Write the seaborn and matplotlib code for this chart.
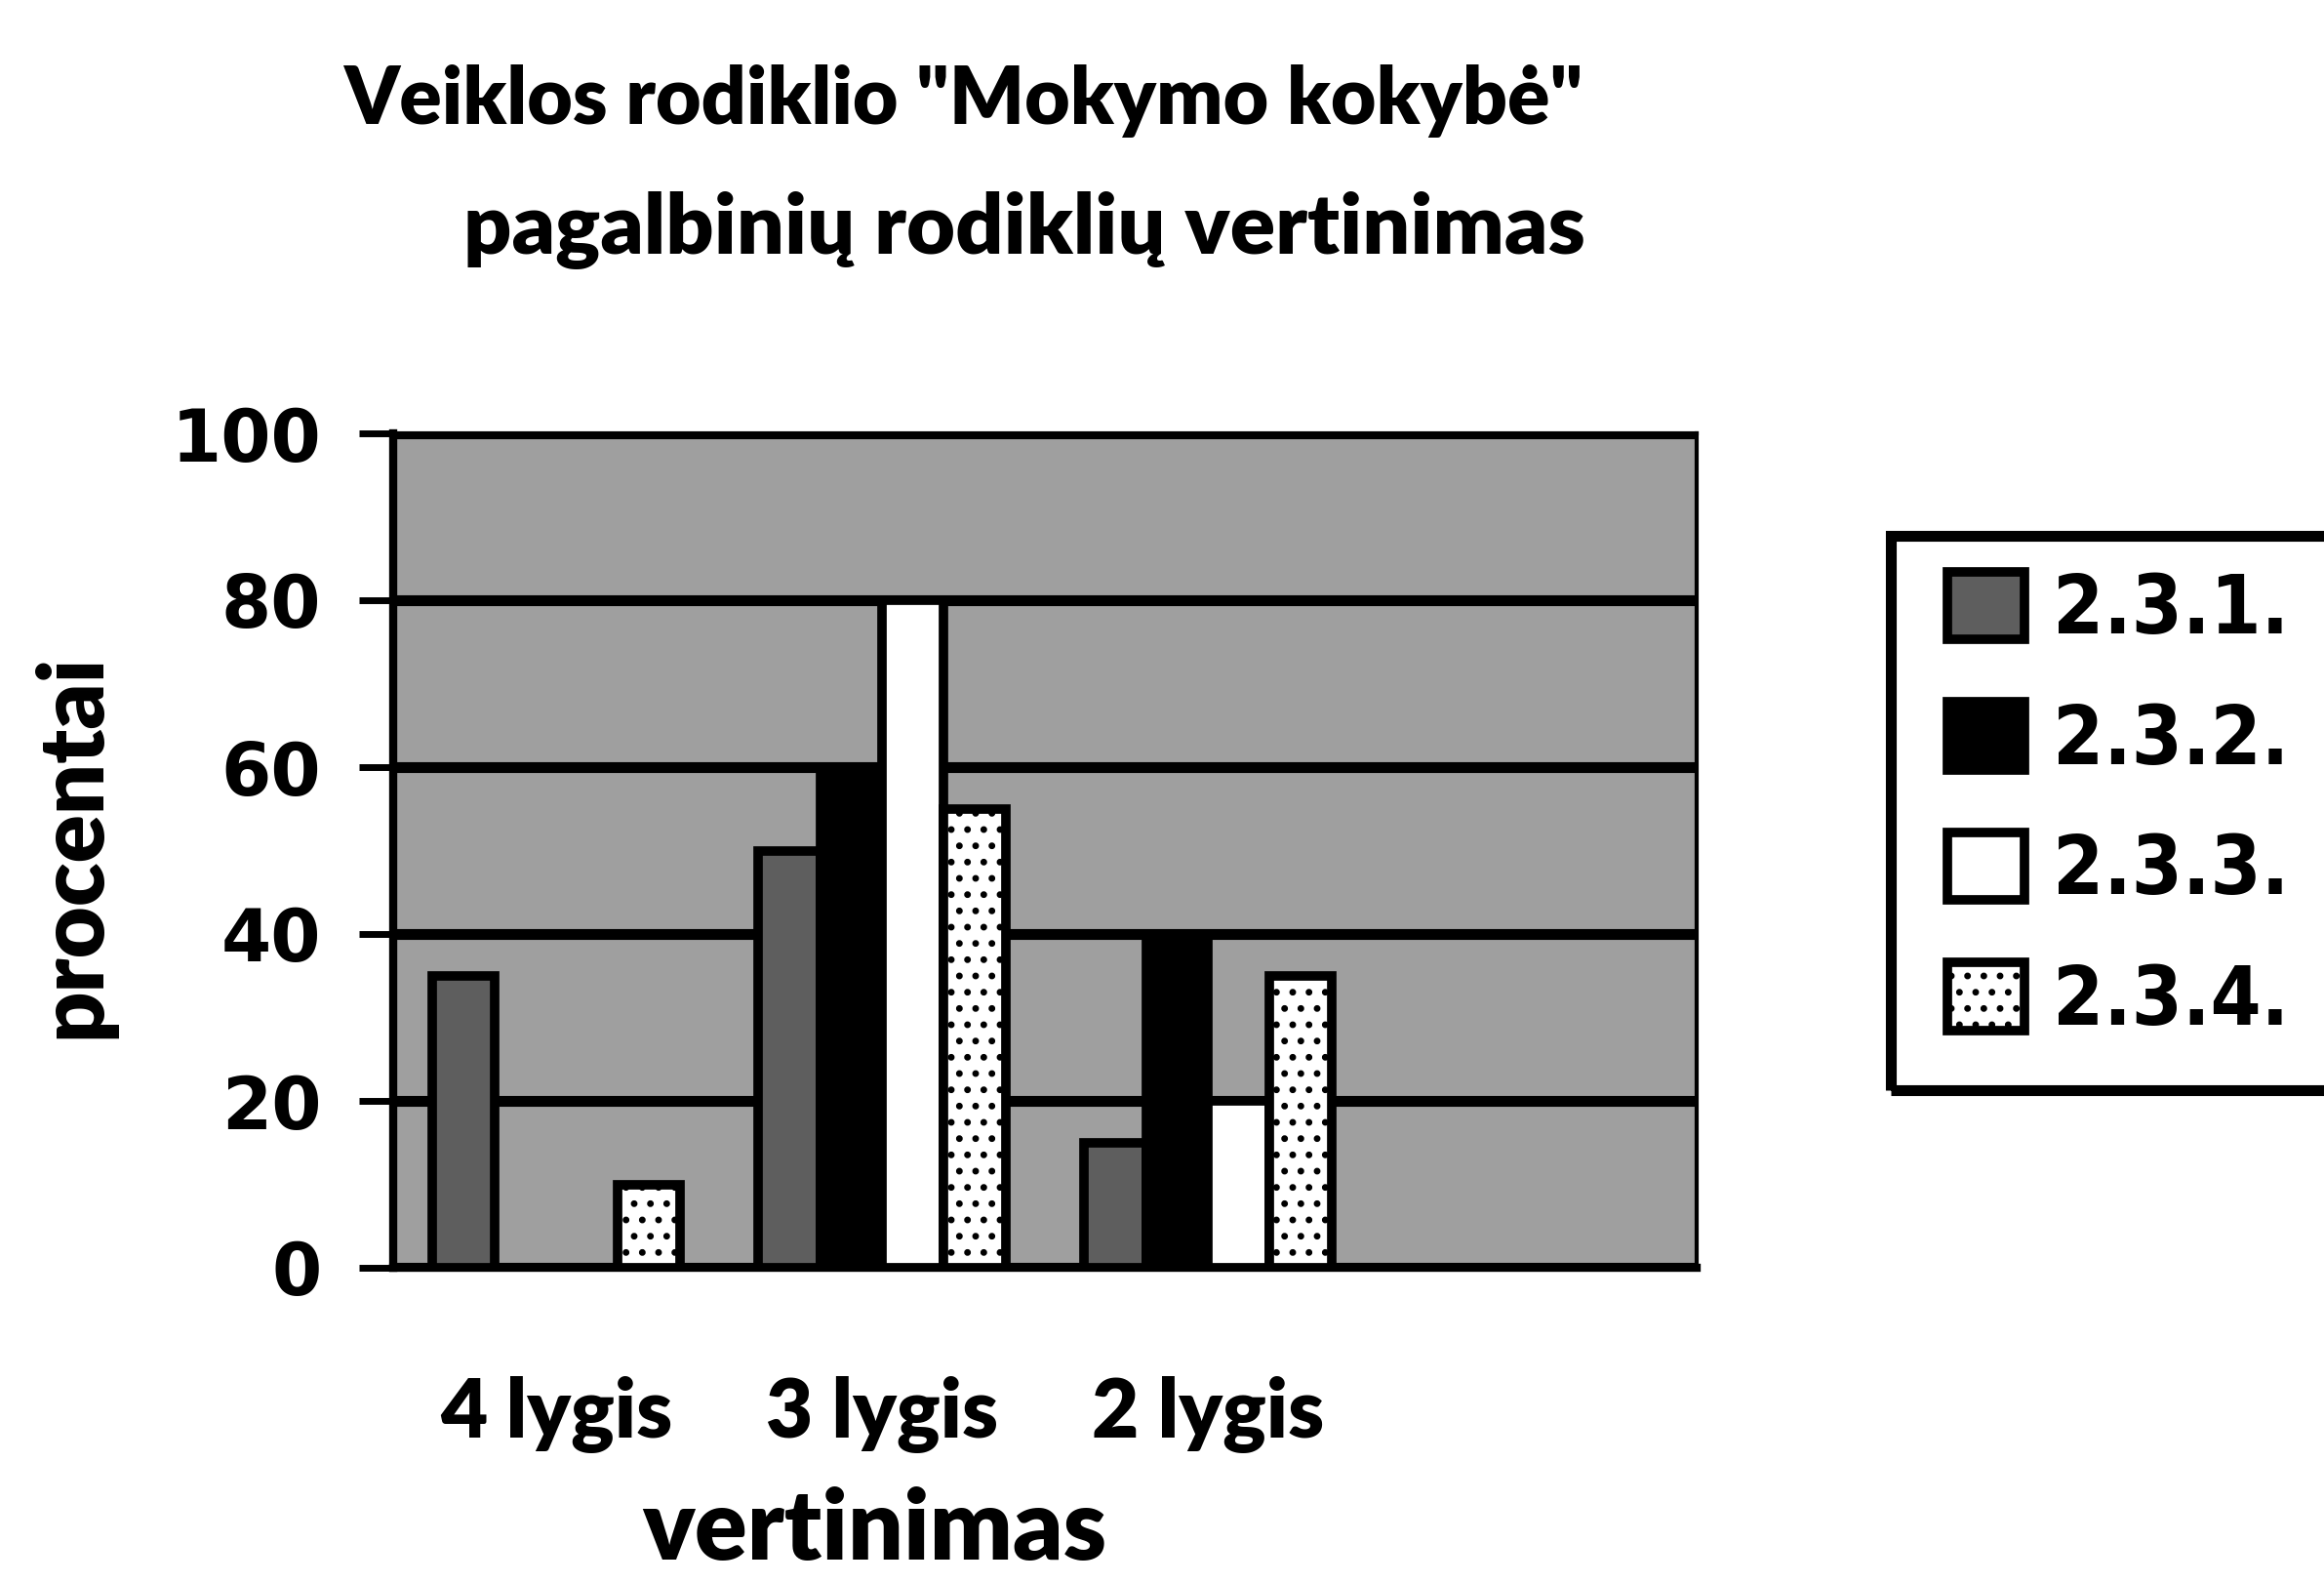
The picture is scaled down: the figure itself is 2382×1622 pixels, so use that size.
import numpy as np
import pandas as pd
import matplotlib
matplotlib.use("Agg")
import matplotlib.pyplot as plt
from matplotlib.patches import Patch, Rectangle
import seaborn as sns


##################################################
# Data
##################################################

categories = ["4 lygis", "3 lygis", "2 lygis", ""]
series = ["2.3.1.", "2.3.2.", "2.3.3.", "2.3.4."]

v_231 = [35, 50, 15, 0]
v_232 = [0, 60, 40, 0]
v_233 = [0, 80, 20, 0]
v_234 = [10, 55, 35, 0]

y_ticks = [0, 20, 40, 60, 80, 100]

title_1 = 'Veiklos rodiklio "Mokymo kokybė"'
title_2 = "pagalbinių rodiklių vertinimas"
x_label = "vertinimas"
y_label = "procentai"

df = pd.DataFrame({
    "kategorija": categories * 4,
    "serija": np.repeat(series, len(categories)),
    "procentai": v_231 + v_232 + v_233 + v_234,
})


##################################################
# Style
##################################################

sns.set_theme(style="white")
plt.rcParams["font.family"] = ["DejaVu Sans"]
plt.rcParams["hatch.color"] = "black"
plt.rcParams["hatch.linewidth"] = 2.5
for key in ["text.color", "axes.labelcolor", "xtick.color", "ytick.color"]:
    plt.rcParams[key] = "black"

face_colors = ["#5e5e5e", "#000000", "#ffffff", "#ffffff"]
hatches = [None, None, None, "."]
bg_color = "#9f9f9f"
label_font = "Lato"


##################################################
# Plot
##################################################

W, H = 2382, 1622
fig = plt.figure(figsize=(W / 100, H / 100), dpi=100)
ax = fig.add_axes([403 / W, 1 - 1299 / H, 1336 / W, 855 / H])

sns.barplot(
    data=df, x="kategorija", y="procentai", hue="serija",
    order=categories, hue_order=series,
    palette=face_colors, width=0.76, saturation=1,
    edgecolor="black", linewidth=7, legend=False, ax=ax,
)

for cont, h in zip(ax.containers, hatches):
    for bar in cont:
        if h:
            bar.set_hatch(h)

ax.set_facecolor(bg_color)
ax.set_axisbelow(True)
ax.yaxis.grid(True, color="black", linewidth=8)
ax.xaxis.grid(False)

ax.set_ylim(0, 100)
ax.set_xlim(-0.5, len(categories) - 0.5)
ax.set_yticks(y_ticks)
ax.set_yticklabels([str(t) for t in y_ticks], fontsize=53, fontweight="bold")

ax.set_xticks(range(len(categories)))
ax.set_xticklabels(categories, fontsize=60, fontweight="heavy", family=label_font)
ax.set_xticks(np.arange(-0.5, len(categories), 1.0), minor=True)
ax.tick_params(axis="x", which="major", length=0, pad=80)
ax.tick_params(axis="x", which="minor", length=24, width=5, color="black", direction="out")
ax.tick_params(axis="y", length=25, width=5, color="black", direction="out", pad=28, left=True)

for side in ["left", "bottom"]:
    ax.spines[side].set_linewidth(6)
    ax.spines[side].set_color("black")
for side in ["top", "right"]:
    ax.spines[side].set_linewidth(3)
    ax.spines[side].set_color("black")

ax.set_xlabel(x_label, fontsize=72, fontweight="heavy", family=label_font)
ax.set_ylabel(y_label, fontsize=66, fontweight="heavy", family=label_font)
ax.xaxis.label.set_va("baseline")
ax.xaxis.set_label_coords(0.369, (1299 - 1598) / 855)
ax.yaxis.set_label_coords(-0.213, 0.505)

# two title lines, each centred where the reference puts it
fig.text(987 / W, 1 - 127 / H, title_1, fontsize=58, fontweight="heavy",
         family=label_font, ha="center", va="baseline")
fig.text(1050 / W, 1 - 260 / H, title_2, fontsize=62, fontweight="heavy",
         family=label_font, ha="center", va="baseline")

##################################################
# Legend
##################################################

handles = [
    Patch(facecolor=c, edgecolor="black", linewidth=7, hatch=h)
    for c, h in zip(face_colors, hatches)
]
leg = fig.legend(
    handles, series, loc="center left",
    bbox_to_anchor=(1996 / W, 1 - 826 / H),
    prop={"size": 60, "weight": "bold", "stretch": "condensed"},
    frameon=False, borderaxespad=0, borderpad=0,
    handlelength=0.95, handleheight=0.9, handletextpad=0.35,
    labelspacing=0.63,
)

# legend frame runs past the right edge of the picture
fig.patches.append(Rectangle(
    (1938 / W, 1 - 1117 / H), (2420 - 1938) / W, (1117 - 549) / H,
    transform=fig.transFigure, fill=False, edgecolor="black", linewidth=8,
))

plt.savefig("out.png", dpi=100)
plt.close()
